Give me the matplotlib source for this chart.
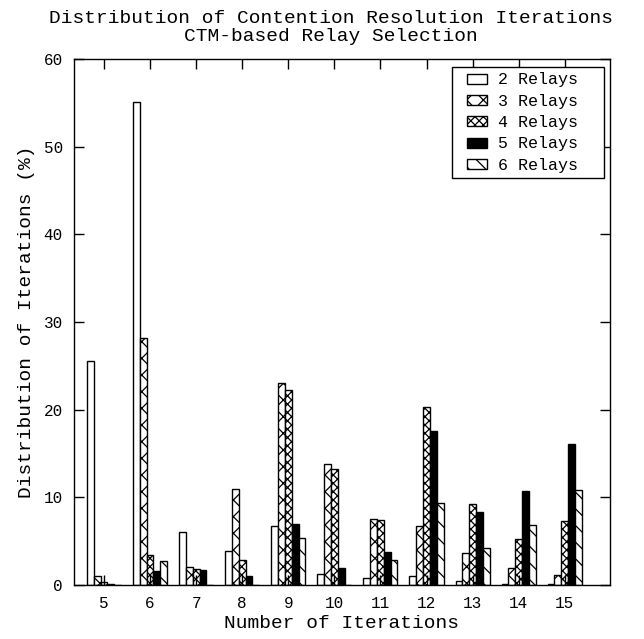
import numpy as np
import matplotlib
matplotlib.use('Agg')
import matplotlib.pyplot as plt
import matplotlib.patches as mpatches
from matplotlib.legend_handler import HandlerPatch

plt.rcParams['font.family'] = ['Liberation Mono', 'DejaVu Sans Mono']
plt.rcParams['hatch.linewidth'] = 0.9

iterations = [5, 6, 7, 8, 9, 10, 11, 12, 13, 14, 15]
labels = ['2 Relays', '3 Relays', '4 Relays', '5 Relays', '6 Relays']

r2 = [25.5, 55.1, 6.1, 3.9, 6.7, 1.3, 0.75, 1.0, 0.4, 0.1, 0.1]
r3 = [1.0, 28.2, 2.0, 11.0, 23.0, 13.8, 7.5, 6.7, 3.7, 1.9, 1.1]
r4 = [0.3, 3.4, 1.8, 2.85, 22.3, 13.2, 7.4, 20.3, 9.2, 5.2, 7.3]
r5 = [0.1, 1.6, 1.7, 1.0, 7.0, 1.9, 3.75, 17.6, 8.3, 10.7, 16.1]
r6 = [0.05, 2.7, 0.0, 0.0, 5.4, 0.0, 2.85, 9.4, 4.2, 6.8, 10.8]

series = [r2, r3, r4, r5, r6]
hatches = ['', 'xx', 'xxxx', '', '\\\\']
colors = ['white', 'white', 'white', 'black', 'white']

fig = plt.figure(figsize=(6.44, 6.39), dpi=100)
ax = fig.add_axes([0.115, 0.0845, 0.832, 0.823])

x = np.array(iterations)
w = 0.148
for i, vals in enumerate(series):
    ax.bar(x + (i - 2) * w, vals, width=w, color=colors[i], edgecolor='black',
           hatch=hatches[i], linewidth=1.0)

ax.set_xlim(4.35, 15.98)
ax.set_ylim(0, 60)
ax.set_xticks(iterations)
ax.set_yticks(range(0, 61, 10))
ax.tick_params(direction='in', top=True, right=True, length=7, width=1,
               labelsize=11.5, pad=8)
for s in ax.spines.values():
    s.set_linewidth(1.0)

ax.set_xlabel('Number of Iterations', fontsize=14, labelpad=3)
ax.set_ylabel('Distribution of Iterations (%)', fontsize=14, labelpad=6)
ax.set_title('Distribution of Contention Resolution Iterations\nCTM-based Relay Selection',
             fontsize=14, linespacing=1.1, pad=13, x=0.48)


# legend boxes sit a bit in from the frame, like gnuplot keys
def key_box(legend, orig_handle, xdescent, ydescent, width, height, fontsize):
    return mpatches.Rectangle((-xdescent + 6.5, -ydescent), width - 6.5, height)


proxies = [mpatches.Patch(facecolor=colors[i], edgecolor='black',
                          hatch=hatches[i], linewidth=1.0) for i in range(5)]
leg = ax.legend(proxies, [l + '  ' for l in labels], loc='upper right',
                fontsize=12, frameon=True, fancybox=False, edgecolor='black',
                framealpha=1, handlelength=1.77, handleheight=0.56,
                labelspacing=0.38, borderpad=0.33, handletextpad=0.66,
                borderaxespad=0, bbox_to_anchor=(0.989, 0.985),
                handler_map={mpatches.Patch: HandlerPatch(patch_func=key_box)})
leg.get_frame().set_linewidth(1.0)

fig.savefig('out.png', dpi=100)
